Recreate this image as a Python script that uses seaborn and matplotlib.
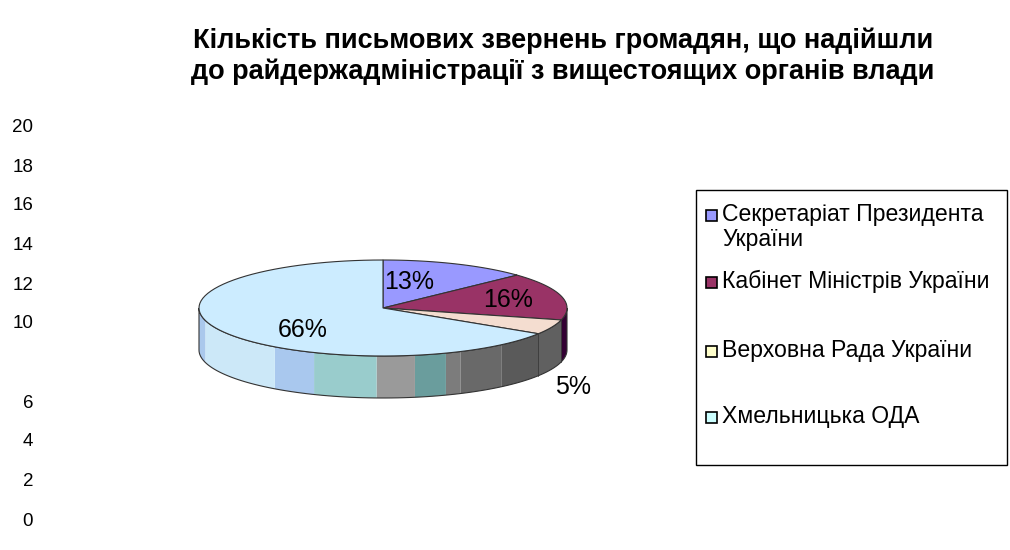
import numpy as np
import matplotlib
matplotlib.use("Agg")
import matplotlib.pyplot as plt
from matplotlib.patches import Polygon, Rectangle
import seaborn as sns

# data
categories = ["Секретаріат Президента\nУкраїни", "Кабінет Міністрів України",
              "Верховна Рада України", "Хмельницька ОДА"]
shares = [13, 16, 5, 66]
pct_labels = ["13%", "16%", "5%", "66%"]
stray_ticks = ["20", "18", "16", "14", "12", "10", "6", "4", "2", "0"]
stray_tick_y = [127, 166, 205, 244, 284, 323, 402, 441, 481, 520]

top_colors = ["#9999FF", "#993366", "#F4DDD0", "#CCECFF"]
side_colors = ["#666699", "#330033", "#606060", "#5f5f5f"]
legend_colors = ["#9999FF", "#993366", "#FFFFCC", "#CCFFFF"]
# odd banding on the side of the big slice (angle in degrees, colour)
band_edges = [-50, -65, -70, -80, -92, -112, -126, -165, -180]
band_colors = ["#5a5a5a", "#696969", "#7c7c7c", "#6a9d9d", "#9a9a9a",
               "#99cccc", "#a9c8ee", "#cce8f8", "#aac8ec"]

sns.set_theme(style="white")
plt.rcParams['font.family'] = ['Liberation Sans', 'DejaVu Sans']
plt.rcParams['text.color'] = 'black'

fig = plt.figure(figsize=(10.1, 5.5), dpi=100)
ax = fig.add_axes([0, 0, 1, 1])
ax.set_xlim(0, 1010)
ax.set_ylim(550, 0)
ax.axis("off")

cx, cy, rx, ry, depth = 383, 308, 184, 48, 42


def pt(t, dy=0.0):
    r = np.radians(t)
    return cx + rx * np.cos(r), cy - ry * np.sin(r) + dy


def side_piece(t0, t1, color):
    # t0 > t1, both in the front half (sin < 0)
    a = max(min(t0, 0), -180)
    b = max(min(t1, 0), -180)
    if a <= b:
        return
    ts = np.linspace(a, b, 40)
    top = [pt(t) for t in ts]
    bot = [pt(t, depth) for t in ts[::-1]]
    ax.add_patch(Polygon(top + bot, closed=True, facecolor=color,
                         edgecolor="none", zorder=2))


# wedge angles, clockwise from 12 o'clock
bounds = 90 - 360 * np.concatenate([[0], np.cumsum(shares)]) / sum(shares)

# side walls
for i in range(len(shares)):
    t0, t1 = bounds[i], bounds[i + 1]
    if i == len(shares) - 1:
        prev = t0
        for e, c in zip(band_edges, band_colors):
            side_piece(prev, e, c)
            prev = e
    else:
        side_piece(t0, t1, side_colors[i])

# side outline
ts = np.linspace(0, -180, 100)
outline = [pt(t) for t in ts] + [pt(t, depth) for t in ts[::-1]]
ax.add_patch(Polygon(outline, closed=True, facecolor="none",
                     edgecolor="#333333", lw=0.8, zorder=3))
for t in bounds:
    if -180 < t < 0:
        x0, y0 = pt(t)
        ax.plot([x0, x0], [y0, y0 + depth], color="#333333", lw=0.6, zorder=3)

# top faces
for i in range(len(shares)):
    ts = np.linspace(bounds[i], bounds[i + 1], 80)
    poly = [(cx, cy)] + [pt(t) for t in ts]
    ax.add_patch(Polygon(poly, closed=True, facecolor=top_colors[i],
                         edgecolor="#333333", lw=0.8, zorder=4))

# percentage labels
label_pos = [(409, 282), (508, 300), (573, 387), (303, 330)]
for (x, y), txt in zip(label_pos, pct_labels):
    ax.text(x, y, txt, fontsize=18, ha="center", va="center", color="black", zorder=5)

# title
ax.text(563, 56, "Кількість письмових звернень громадян, що надійшли\n"
        "до райдержадміністрації з вищестоящих органів влади",
        fontsize=19.5, fontweight="bold", ha="center", va="center",
        linespacing=1.2, fontstretch="condensed",
        family=['Liberation Sans Narrow', 'Liberation Sans', 'DejaVu Sans'])

# leftover axis numbers along the left edge
for y, s in zip(stray_tick_y, stray_ticks):
    ax.text(33, y + 1, s, fontsize=13.5, ha="right", va="center", color="black")

# legend
ax.add_patch(Rectangle((696, 190), 311, 275, facecolor="white",
                       edgecolor="black", lw=1.0, zorder=1))
legend_y = [216, 283, 352, 418]
for y, c, lab in zip(legend_y, legend_colors, categories):
    ax.add_patch(Rectangle((706, y - 6), 11, 11, facecolor=c,
                           edgecolor="black", lw=1.2, zorder=2))
    ax.text(722, y - 13, lab, fontsize=16.6, ha="left", va="top",
            linespacing=1.12, zorder=2)

fig.savefig("out.png", dpi=100)
